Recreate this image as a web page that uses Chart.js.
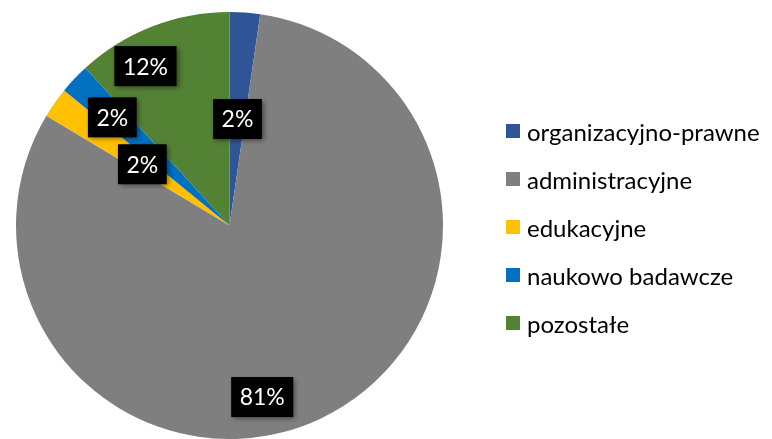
<!DOCTYPE html>
<html>
<head>
<meta charset="utf-8">
<script src="https://cdn.jsdelivr.net/npm/chart.js@4"></script>
<style>
  body { margin: 0; background: #fff; }
  #wrap { position: relative; width: 772px; height: 439px; overflow: hidden; }
  #legend { position: absolute; left: 506px; top: 107px; margin: 0; padding: 0; list-style: none;
    font-family: Lato, "Open Sans", sans-serif; font-size: 24px; color: #000; }
  #legend li { height: 48px; display: flex; align-items: center; }
  #legend span.box { width: 14px; height: 14px; margin-right: 7px; display: inline-block; }
</style>
</head>
<body>
<div id="wrap">
  <canvas id="pie" width="772" height="439"></canvas>
  <ul id="legend"></ul>
</div>
<script>
// kategorie i udziały (w %)
const categories = ["organizacyjno-prawne", "administracyjne", "edukacyjne", "naukowo badawcze", "pozostałe"];
const shares = [2.3, 81.3, 2.3, 2.3, 11.8];
const colors = ["#2F5597", "#7F7F7F", "#FFC000", "#0070C0", "#548235"];

// where Excel put each data label: [angle clockwise from top in deg, fraction of radius]
const labelSpots = [[4.3, 0.50], [169.2, 0.818], [305.1, 0.499], [312.7, 0.747], [332.2, 0.844]];

const boxedLabels = {
  id: "boxedLabels",
  afterDatasetsDraw(chart) {
    const ctx = chart.ctx;
    const meta = chart.getDatasetMeta(0);
    const values = chart.data.datasets[0].data;
    const total = values.reduce((a, b) => a + b, 0);
    ctx.save();
    ctx.font = "23px Lato, 'Open Sans', sans-serif";
    ctx.textAlign = "center";
    ctx.textBaseline = "middle";
    meta.data.forEach((arc, i) => {
      const spot = labelSpots[i];
      const a = -Math.PI / 2 + spot[0] * Math.PI / 180;
      const r = arc.outerRadius * spot[1];
      const x = arc.x + Math.cos(a) * r;
      const y = arc.y + Math.sin(a) * r;
      const text = Math.round(values[i] / total * 100) + "%";
      const w = ctx.measureText(text).width + 17;
      const h = 40;
      ctx.shadowColor = "rgba(0,0,0,0.45)";
      ctx.shadowBlur = 5;
      ctx.shadowOffsetX = 2;
      ctx.shadowOffsetY = 2;
      ctx.fillStyle = "#000";
      ctx.fillRect(x - w / 2, y - h / 2, w, h);
      ctx.shadowColor = "transparent";
      ctx.fillStyle = "#fff";
      ctx.fillText(text, x, y + 1);
    });
    ctx.restore();
  }
};

const chart = new Chart(document.getElementById("pie"), {
  type: "pie",
  data: {
    labels: categories,
    datasets: [{
      data: shares,
      backgroundColor: colors,
      borderWidth: 0
    }]
  },
  options: {
    responsive: false,
    devicePixelRatio: 1,
    animation: false,
    layout: { padding: { left: 16, right: 329, top: 12, bottom: 0 } },
    plugins: {
      legend: { display: false },
      tooltip: { enabled: false }
    }
  },
  plugins: [boxedLabels]
});

// legenda
const legend = document.getElementById("legend");
categories.forEach((name, i) => {
  const li = document.createElement("li");
  li.innerHTML = `<span class="box" style="background:${colors[i]}"></span>${name}`;
  legend.appendChild(li);
});
</script>
</body>
</html>
